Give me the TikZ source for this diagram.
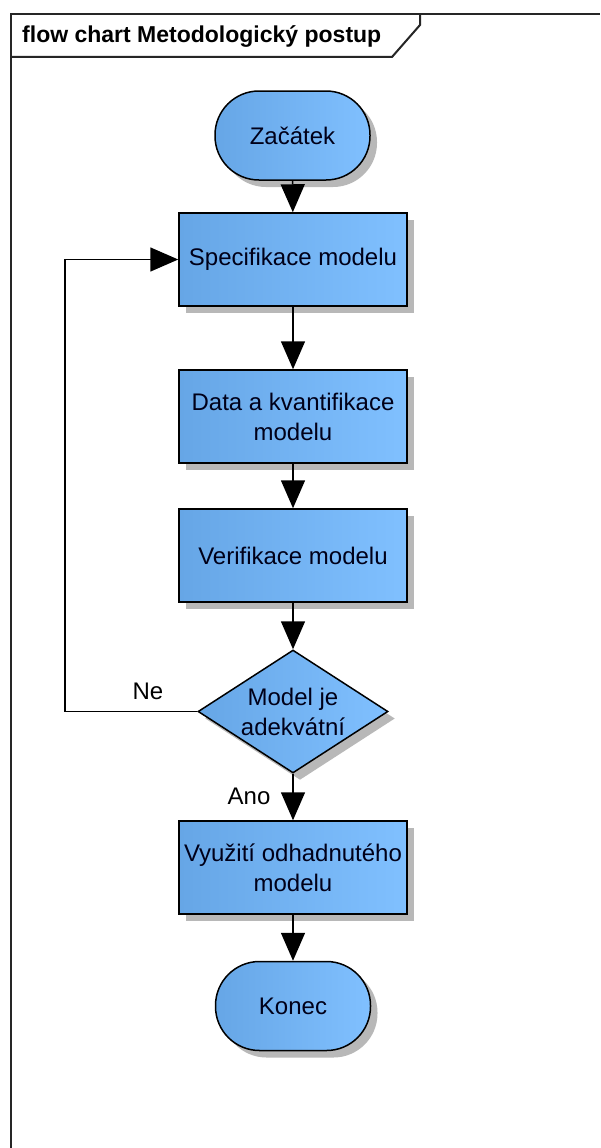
\documentclass[tikz,border=0pt]{standalone}
\usepackage{fontspec}
\setmainfont{Liberation Sans}
\usetikzlibrary{shapes.geometric,shadows,arrows.meta}
\definecolor{boxL}{RGB}{102,166,230}
\definecolor{boxR}{RGB}{128,192,255}
\newcommand{\nodefont}{\fontsize{24}{30}\selectfont}
\begin{document}
\begin{tikzpicture}[x=1pt,y=-1pt,
  box/.style={draw=black, line width=1.5pt, left color=boxL, right color=boxR,
    drop shadow={shadow xshift=7pt, shadow yshift=-7pt, fill=black!28, opacity=1},
    minimum width=228pt, minimum height=93pt, inner sep=2pt, align=center,
    font=\nodefont, text=black!90!blue},
  term/.style={box, rounded corners=44pt, minimum width=155pt, minimum height=89pt},
  decision/.style={box, shape=diamond, aspect=1.545, inner sep=0pt,
    minimum width=190pt, minimum height=123pt},
  conn/.style={line width=1.5pt, -{Triangle[width=24pt,length=28pt]}},
  lbl/.style={font=\nodefont, text=black, inner sep=0pt},
  frame/.style={line width=2pt, draw=black!85}]
\useasboundingbox (0,0) rectangle (600,1148);
\fill[white] (0,0) rectangle (600,1148);
% frame
\draw[frame] (11,1148) -- (11,14) -- (600,14);
\draw[frame] (420,14) -- (420,25) -- (392,57) -- (11,57);
\node[anchor=base west, inner sep=0pt, font=\fontsize{23}{28}\selectfont\bfseries] (title) at (22,43) {flow chart Metodologický postup};
% nodes
\node[term] (start) at (292.5,135.5) {Začátek};
\node[box] (spec) at (293,259.5) {Specifikace modelu};
\node[box] (data) at (293,416.5) {Data a kvantifikace\\modelu};
\node[box] (verif) at (293,555.5) {Verifikace modelu};
\node[decision] (dec) at (293,711.5) {Model je\\adekvátní};
\node[box] (use) at (293,867.5) {Využití odhadnutého\\modelu};
\node[term] (end) at (293,1006) {Konec};
% connectors
\draw[conn] (start) -- (spec);
\draw[conn] (spec) -- (data);
\draw[conn] (data) -- (verif);
\draw[conn] (verif) -- (dec);
\draw[conn] (dec) -- (use);
\draw[conn] (use) -- (end);
\coordinate (lb) at (65,711.5);
\coordinate (lt) at (65,259.5);
\draw[conn] (dec.west) -- (lb) -- (lt) -- (spec.west);
% labels
\node[lbl] (ne) at (148,691) {Ne};
\node[lbl] (ano) at (249,796) {Ano};
\end{tikzpicture}
\end{document}
